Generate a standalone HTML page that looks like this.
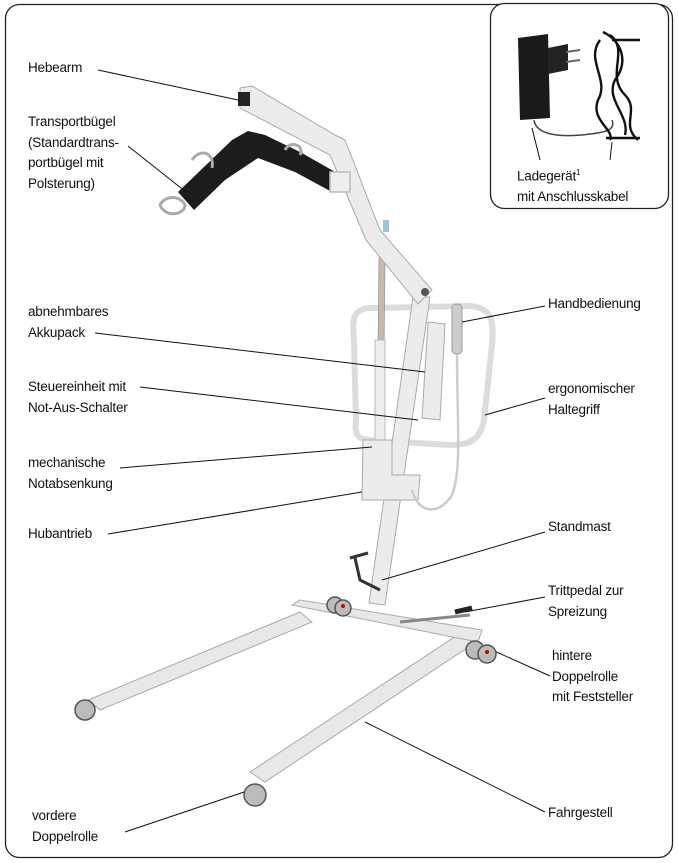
<!DOCTYPE html>
<html><head><meta charset="utf-8"><style>
html,body{margin:0;padding:0;background:#fff;}
body{width:678px;height:863px;position:relative;overflow:hidden;font-family:"Liberation Sans",sans-serif;}
.t{position:absolute;font-size:13.5px;line-height:20.5px;color:#111;letter-spacing:-0.2px;white-space:nowrap;}
svg{position:absolute;left:0;top:0;}
</style></head><body>
<svg width="678" height="863" viewBox="0 0 678 863">
<rect x="5.5" y="4.5" width="667" height="853" rx="14" fill="none" stroke="#222" stroke-width="1.3"/>
<rect x="490.5" y="3.5" width="178" height="205" rx="14" fill="#fff" stroke="#222" stroke-width="1.3"/>
<!-- charger -->
<path d="M518 38 L548 34 L550 118 L520 120 Z" fill="#1a1a1a"/>
<path d="M548 48 L568 44 L568 70 L548 74 Z" fill="#222"/>
<path d="M566 52 L580 50 M566 62 L580 60" stroke="#666" stroke-width="2"/>
<path d="M534 120 C536 135 560 138 590 134 C610 132 615 128 612 120" fill="none" stroke="#444" stroke-width="1.5"/>
<path d="M600 40 C585 60 610 80 598 100 C590 120 615 130 610 140 M610 35 C630 50 605 75 625 95 C640 110 620 125 638 140 M603 32 C620 40 630 60 615 80 C605 100 630 115 625 135 M612 40 L640 40 M606 138 L640 138" fill="none" stroke="#111" stroke-width="2.4"/>
<!-- base -->
<g fill="#e8e8e8" stroke="#aaa" stroke-width="1">
<path d="M300 612 L312 622 L100 710 L88 700 Z"/>
<path d="M462 632 L476 642 L265 782 L250 772 Z"/>
<path d="M292 605 L300 600 L482 630 L478 642 Z"/>
</g>
<!-- handle loop -->
<g fill="none" stroke="#dcdcdc" stroke-width="6" stroke-linecap="round">
<path d="M372 308 L470 306 C492 308 494 320 492 345 L484 420 C480 440 470 445 450 445 L400 442"/>
<path d="M372 308 C352 308 352 320 354 340 L356 420 C354 435 358 440 372 440"/>
</g>
<!-- actuator rod -->
<path d="M379 258 L385 258 L383 445 L377 445 Z" fill="#c9b9a8" stroke="#999" stroke-width="0.8"/>
<rect x="375" y="340" width="10" height="100" fill="#eee" stroke="#bbb"/>
<g fill="#ececec" stroke="#aaa" stroke-width="1">
<!-- mast -->
<path d="M413 297 L430 297 L385 605 L369 603 Z"/>
<!-- boom -->
<path d="M240 88 L252 86 L335 135 L345 140 L380 230 L432 290 L418 304 L366 240 L330 155 L240 108 Z"/>
<!-- battery -->
<path d="M428 322 L445 324 L440 420 L422 418 Z"/>
<!-- hubantrieb -->
<path d="M363 440 L392 440 L392 475 L420 475 L418 500 L362 500 Z"/>
</g>
<rect x="238" y="92" width="12" height="14" fill="#222"/>
<rect x="383" y="220" width="6" height="12" fill="#8fc8e0"/>
<circle cx="425" cy="292" r="4" fill="#555"/>
<!-- hand control -->
<rect x="452" y="304" width="10" height="50" rx="4" fill="#ccc" stroke="#999"/>
<path d="M457 354 C457 420 462 470 452 495 C440 515 418 515 412 490" fill="none" stroke="#ccc" stroke-width="2.5"/>
<!-- spreader bar -->
<path d="M178 192 L232 140 L248 131 L265 135 L300 152 L337 173 L332 192 L295 172 L258 158 L225 180 L194 210 Z" fill="#1c1c1c"/>
<path d="M160 205 C165 195 180 195 185 205 C185 215 165 218 160 205 Z M192 160 C200 148 215 152 212 168 M285 150 C290 140 305 145 300 155" fill="none" stroke="#aaa" stroke-width="3"/>
<path d="M330 172 L350 172 L350 192 L330 192 Z" fill="#eee" stroke="#bbb" stroke-width="1.5"/>
<!-- leader lines -->
<g stroke="#111" stroke-width="1" fill="none">
<line x1="98" y1="70" x2="238" y2="100"/>
<line x1="128" y1="146" x2="186" y2="192"/>
<line x1="95" y1="333" x2="425" y2="372"/>
<line x1="140" y1="387" x2="418" y2="420"/>
<line x1="120" y1="468" x2="372" y2="447"/>
<line x1="108" y1="534" x2="362" y2="492"/>
<line x1="545" y1="306" x2="462" y2="322"/>
<line x1="545" y1="398" x2="485" y2="415"/>
<line x1="545" y1="532" x2="382" y2="580"/>
<line x1="545" y1="597" x2="465" y2="612"/>
<line x1="550" y1="676" x2="492" y2="650"/>
<line x1="545" y1="812" x2="365" y2="722"/>
<line x1="125" y1="832" x2="250" y2="790"/>
<line x1="540" y1="160" x2="532" y2="128"/>
<line x1="610" y1="160" x2="612" y2="142"/>
</g>
<!-- pedals -->
<path d="M350 558 L368 553 M355 558 L360 580 L380 590" stroke="#333" stroke-width="3" fill="none"/>
<path d="M400 622 L470 615" stroke="#888" stroke-width="3"/>
<path d="M455 612 L472 608" stroke="#222" stroke-width="5"/>
<!-- wheels -->
<g fill="#bbb" stroke="#555" stroke-width="1.5">
<circle cx="85" cy="710" r="10"/><circle cx="255" cy="795" r="11"/>
<circle cx="335" cy="605" r="8"/><circle cx="343" cy="608" r="8"/>
<circle cx="475" cy="650" r="9"/><circle cx="487" cy="654" r="9"/>
</g>
<g fill="#c00"><circle cx="343" cy="606" r="2"/><circle cx="487" cy="652" r="2"/></g>
</svg>
<div class="t" style="left:28px;top:58px">Hebearm</div>
<div class="t" style="left:28px;top:112px">Transportbügel<br>(Standardtrans-<br>portbügel mit<br>Polsterung)</div>
<div class="t" style="left:28px;top:302px">abnehmbares<br>Akkupack</div>
<div class="t" style="left:28px;top:377px">Steuereinheit mit<br>Not-Aus-Schalter</div>
<div class="t" style="left:28px;top:453px">mechanische<br>Notabsenkung</div>
<div class="t" style="left:28px;top:524px">Hubantrieb</div>
<div class="t" style="left:548px;top:294px">Handbedienung</div>
<div class="t" style="left:548px;top:379px">ergonomischer<br>Haltegriff</div>
<div class="t" style="left:548px;top:517px">Standmast</div>
<div class="t" style="left:548px;top:581px">Trittpedal zur<br>Spreizung</div>
<div class="t" style="left:552px;top:646px">hintere<br>Doppelrolle<br>mit Feststeller</div>
<div class="t" style="left:548px;top:803px">Fahrgestell</div>
<div class="t" style="left:32px;top:806px">vordere<br>Doppelrolle</div>
<div class="t" style="left:517px;top:163px">Ladegerät<sup style="font-size:8px">1</sup><br>mit Anschlusskabel</div>
</body></html>
